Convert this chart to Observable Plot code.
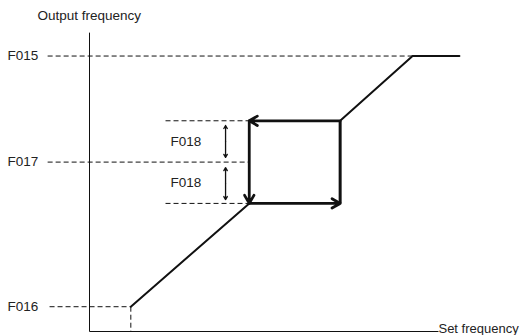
<!DOCTYPE html>
<html><head><meta charset="utf-8">
<script src="https://cdn.jsdelivr.net/npm/d3@7"></script>
<script src="https://cdn.jsdelivr.net/npm/@observablehq/plot@0.6"></script>
<style>
html,body{margin:0;padding:0;background:#fff;}
svg{font-family:"Liberation Sans",Arial,sans-serif;}
</style>
</head><body><div id="chart"></div>
<script>
// Level names and their output-frequency values (arbitrary units)
const levelNames = ["F015", "F017", "F016"];
const levelValues = [100, 61.5, 9];
const hystName = "F018";
const hystValues = [69, 54];          // label positions of the two F018 bands
// Curve: rising segment, hysteresis box, upper segment
const riseX = [15, 58];
const riseY = [9, 46.5];
const upperX = [91, 117.3, 134.3];
const upperY = [76.5, 100, 100];
const boxLeft = 58, boxRight = 91, boxBottom = 46.5, boxTop = 76.5;
// Axis extents
const xAxisEnd = 126.7, yAxisTop = 108.5;
const dashStart = -15.2, bandDashStart = 27.6, labelX = -29.8, hystLabelX = 29.4, dimX = 49.4;
const dimArrows = [[74.8, 63.2], [47.9, 59.5]];

const rise = riseX.map((x, i) => ({x, y: riseY[i]}));
const upper = upperX.map((x, i) => ({x, y: upperY[i]}));
const levels = levelNames.map((n, i) => ({n, v: levelValues[i]}));

const dash = {stroke: "#111", strokeWidth: 1, strokeDasharray: "5,3"};
const boxArrow = {stroke: "#111", strokeWidth: 2.8, headLength: 5, headAngle: 60};
const dimArrow = {stroke: "#111", strokeWidth: 1.3, headLength: 4, headAngle: 60};

const plot = Plot.plot({
  width: 526, height: 335,
  margin: 0,
  x: {domain: [0, 127], range: [89, 438.8], axis: null},
  y: {domain: [0, 110], range: [331, 28], axis: null},
  marks: [
    // axes
    Plot.link([0], {x1: 0, y1: 0, x2: xAxisEnd, y2: 0, stroke: "#111", strokeWidth: 1}),
    Plot.link([0], {x1: 0, y1: 0, x2: 0, y2: yAxisTop, stroke: "#111", strokeWidth: 1}),
    // dashed level lines
    Plot.link([0], {x1: dashStart, y1: levelValues[0], x2: upperX[1], y2: levelValues[0], ...dash}),
    Plot.link([0], {x1: dashStart, y1: levelValues[1], x2: boxLeft, y2: levelValues[1], ...dash}),
    Plot.link([0], {x1: dashStart + 0.7, y1: levelValues[2], x2: riseX[0], y2: levelValues[2], ...dash}),
    Plot.link([0], {x1: riseX[0], y1: levelValues[2], x2: riseX[0], y2: 0, ...dash}),
    Plot.link([0], {x1: bandDashStart, y1: boxTop, x2: boxLeft, y2: boxTop, ...dash}),
    Plot.link([0], {x1: bandDashStart, y1: boxBottom, x2: boxLeft, y2: boxBottom, ...dash}),
    // curve
    Plot.line(rise, {x: "x", y: "y", stroke: "#111", strokeWidth: 2}),
    Plot.line(upper, {x: "x", y: "y", stroke: "#111", strokeWidth: 2}),
    // hysteresis box
    Plot.link([0], {x1: boxRight, y1: boxBottom, x2: boxRight, y2: boxTop, stroke: "#111", strokeWidth: 3}),
    Plot.arrow([0], {x1: boxLeft, y1: boxBottom, x2: boxRight, y2: boxBottom, ...boxArrow}),
    Plot.arrow([0], {x1: boxRight, y1: boxTop, x2: boxLeft, y2: boxTop, ...boxArrow}),
    Plot.arrow([0], {x1: boxLeft, y1: boxTop, x2: boxLeft, y2: boxBottom, ...boxArrow}),
    // F018 dimension arrows (double headed)
    ...dimArrows.flatMap(([a, b]) => [
      Plot.arrow([0], {x1: dimX, y1: (a + b) / 2, x2: dimX, y2: a, ...dimArrow}),
      Plot.arrow([0], {x1: dimX, y1: (a + b) / 2, x2: dimX, y2: b, ...dimArrow})
    ]),
    // labels
    Plot.text(levels, {x: labelX, y: "v", text: "n", textAnchor: "start", fontSize: 13.5, fill: "#222"}),
    Plot.text(hystValues, {x: hystLabelX, y: d => d, text: () => hystName, textAnchor: "start", fontSize: 13.5, fill: "#222"}),
    Plot.text(["Output frequency"], {x: -18.9, y: 114.7, text: d => d, textAnchor: "start", fontSize: 13.5, fill: "#222"}),
    Plot.text(["Set frequency"], {x: xAxisEnd, y: 0, dy: -3, text: d => d, textAnchor: "start", fontSize: 13, fill: "#222"})
  ]
});
document.getElementById("chart").appendChild(plot);
</script>
</body></html>
